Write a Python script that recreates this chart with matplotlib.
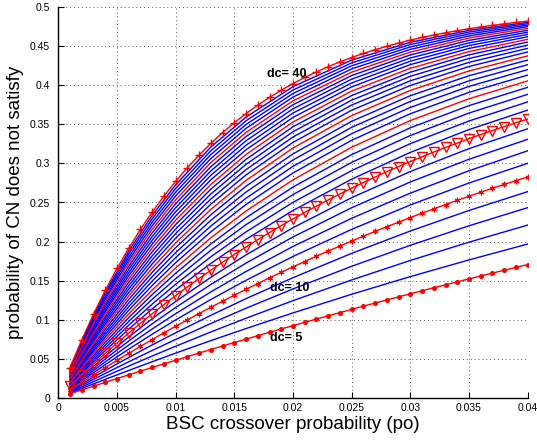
import matplotlib
matplotlib.use("Agg")
from matplotlib import pyplot as plt

plt.rcParams['font.family'] = ['Liberation Sans', 'DejaVu Sans']

# crossover probabilities (fine grid used for the marked curves)
po_fine = [0.001, 0.002, 0.003, 0.004, 0.005, 0.006, 0.007, 0.008, 0.009, 0.010,
           0.011, 0.012, 0.013, 0.014, 0.015, 0.016, 0.017, 0.018, 0.019, 0.020,
           0.021, 0.022, 0.023, 0.024, 0.025, 0.026, 0.027, 0.028, 0.029, 0.030,
           0.031, 0.032, 0.033, 0.034, 0.035, 0.036, 0.037, 0.038, 0.039, 0.040]
# points read for the plain curves
po_coarse = [0.001, 0.002, 0.003, 0.004, 0.006, 0.008, 0.010, 0.013, 0.016,
             0.020, 0.025, 0.030, 0.035, 0.040]

pf_dc5 = [0.0050, 0.0099, 0.0148, 0.0197, 0.0245, 0.0293, 0.0340, 0.0387, 0.0434, 0.0480,
          0.0526, 0.0572, 0.0617, 0.0662, 0.0706, 0.0750, 0.0794, 0.0838, 0.0881, 0.0923,
          0.0965, 0.1007, 0.1049, 0.1090, 0.1131, 0.1172, 0.1212, 0.1252, 0.1291, 0.1331,
          0.1369, 0.1408, 0.1446, 0.1484, 0.1522, 0.1559, 0.1596, 0.1632, 0.1669, 0.1705]
pf_dc10 = [0.0099, 0.0196, 0.0292, 0.0386, 0.0478, 0.0569, 0.0657, 0.0745, 0.0831, 0.0915,
           0.0997, 0.1078, 0.1158, 0.1236, 0.1313, 0.1388, 0.1462, 0.1535, 0.1606, 0.1676,
           0.1744, 0.1812, 0.1878, 0.1943, 0.2006, 0.2069, 0.2130, 0.2190, 0.2249, 0.2307,
           0.2364, 0.2419, 0.2474, 0.2528, 0.2580, 0.2632, 0.2682, 0.2732, 0.2780, 0.2828]
pf_dc15 = [0.0148, 0.0292, 0.0432, 0.0568, 0.0700, 0.0828, 0.0953, 0.1075, 0.1193, 0.1307,
           0.1419, 0.1527, 0.1632, 0.1735, 0.1834, 0.1930, 0.2024, 0.2115, 0.2204, 0.2290,
           0.2373, 0.2454, 0.2533, 0.2609, 0.2684, 0.2756, 0.2826, 0.2894, 0.2960, 0.3024,
           0.3086, 0.3146, 0.3205, 0.3261, 0.3317, 0.3370, 0.3422, 0.3472, 0.3521, 0.3569]
pf_dc40 = [0.0385, 0.0741, 0.1070, 0.1374, 0.1655, 0.1915, 0.2155, 0.2377, 0.2582, 0.2771,
           0.2946, 0.3108, 0.3257, 0.3395, 0.3521, 0.3639, 0.3747, 0.3846, 0.3938, 0.4023,
           0.4101, 0.4173, 0.4240, 0.4301, 0.4357, 0.4409, 0.4457, 0.4501, 0.4542, 0.4579,
           0.4614, 0.4645, 0.4674, 0.4701, 0.4726, 0.4748, 0.4769, 0.4788, 0.4806, 0.4822]

pf_dc6 = [0.0060, 0.0119, 0.0177, 0.0235, 0.0349, 0.0461, 0.0571, 0.0731, 0.0886, 0.1086, 0.1325, 0.1551, 0.1765, 0.1968]
pf_dc7 = [0.0070, 0.0138, 0.0206, 0.0273, 0.0405, 0.0534, 0.0659, 0.0842, 0.1018, 0.1243, 0.1508, 0.1758, 0.1992, 0.2211]
pf_dc8 = [0.0079, 0.0158, 0.0235, 0.0311, 0.0460, 0.0605, 0.0746, 0.0950, 0.1146, 0.1393, 0.1683, 0.1952, 0.2202, 0.2434]
pf_dc9 = [0.0089, 0.0177, 0.0264, 0.0349, 0.0515, 0.0676, 0.0831, 0.1055, 0.1269, 0.1537, 0.1849, 0.2135, 0.2398, 0.2639]
pf_dc11 = [0.0109, 0.0216, 0.0320, 0.0423, 0.0622, 0.0813, 0.0996, 0.1258, 0.1504, 0.1809, 0.2156, 0.2469, 0.2750, 0.3002]
pf_dc12 = [0.0119, 0.0235, 0.0348, 0.0459, 0.0674, 0.0880, 0.1076, 0.1355, 0.1616, 0.1937, 0.2298, 0.2620, 0.2907, 0.3162]
pf_dc13 = [0.0129, 0.0254, 0.0376, 0.0496, 0.0726, 0.0946, 0.1155, 0.1450, 0.1724, 0.2059, 0.2433, 0.2763, 0.3054, 0.3309]
pf_dc14 = [0.0138, 0.0273, 0.0404, 0.0532, 0.0778, 0.1011, 0.1232, 0.1542, 0.1829, 0.2177, 0.2562, 0.2897, 0.3190, 0.3444]
pf_dc16 = [0.0158, 0.0311, 0.0459, 0.0603, 0.0878, 0.1137, 0.1381, 0.1720, 0.2029, 0.2398, 0.2799, 0.3142, 0.3434, 0.3683]
pf_dc17 = [0.0167, 0.0329, 0.0486, 0.0638, 0.0928, 0.1199, 0.1453, 0.1805, 0.2124, 0.2502, 0.2909, 0.3254, 0.3544, 0.3788]
pf_dc18 = [0.0177, 0.0348, 0.0513, 0.0673, 0.0977, 0.1260, 0.1524, 0.1888, 0.2216, 0.2602, 0.3014, 0.3358, 0.3646, 0.3885]
pf_dc19 = [0.0187, 0.0367, 0.0540, 0.0708, 0.1025, 0.1320, 0.1594, 0.1969, 0.2305, 0.2698, 0.3113, 0.3457, 0.3741, 0.3975]
pf_dc20 = [0.0196, 0.0385, 0.0567, 0.0742, 0.1073, 0.1379, 0.1662, 0.2048, 0.2391, 0.2790, 0.3208, 0.3550, 0.3829, 0.4057]
pf_dc21 = [0.0206, 0.0404, 0.0594, 0.0776, 0.1120, 0.1437, 0.1729, 0.2125, 0.2475, 0.2878, 0.3297, 0.3637, 0.3911, 0.4132]
pf_dc22 = [0.0215, 0.0422, 0.0620, 0.0810, 0.1166, 0.1494, 0.1794, 0.2199, 0.2555, 0.2963, 0.3382, 0.3718, 0.3987, 0.4202]
pf_dc23 = [0.0225, 0.0440, 0.0646, 0.0843, 0.1212, 0.1550, 0.1858, 0.2272, 0.2634, 0.3045, 0.3463, 0.3795, 0.4058, 0.4265]
pf_dc24 = [0.0235, 0.0459, 0.0672, 0.0877, 0.1258, 0.1605, 0.1921, 0.2343, 0.2709, 0.3123, 0.3540, 0.3868, 0.4124, 0.4324]
pf_dc25 = [0.0244, 0.0477, 0.0698, 0.0910, 0.1303, 0.1659, 0.1983, 0.2412, 0.2783, 0.3198, 0.3613, 0.3936, 0.4185, 0.4378]
pf_dc26 = [0.0254, 0.0495, 0.0724, 0.0942, 0.1347, 0.1713, 0.2043, 0.2479, 0.2854, 0.3270, 0.3682, 0.3999, 0.4242, 0.4428]
pf_dc27 = [0.0263, 0.0513, 0.0750, 0.0975, 0.1391, 0.1765, 0.2102, 0.2545, 0.2922, 0.3339, 0.3748, 0.4059, 0.4295, 0.4474]
pf_dc28 = [0.0273, 0.0531, 0.0775, 0.1007, 0.1434, 0.1817, 0.2160, 0.2609, 0.2989, 0.3406, 0.3811, 0.4116, 0.4345, 0.4516]
pf_dc29 = [0.0282, 0.0549, 0.0801, 0.1039, 0.1477, 0.1868, 0.2217, 0.2671, 0.3053, 0.3470, 0.3870, 0.4169, 0.4391, 0.4555]
pf_dc30 = [0.0292, 0.0567, 0.0826, 0.1071, 0.1519, 0.1918, 0.2273, 0.2732, 0.3115, 0.3531, 0.3927, 0.4219, 0.4433, 0.4590]
pf_dc31 = [0.0301, 0.0584, 0.0851, 0.1102, 0.1561, 0.1967, 0.2327, 0.2791, 0.3176, 0.3590, 0.3981, 0.4266, 0.4473, 0.4623]
pf_dc32 = [0.0310, 0.0602, 0.0876, 0.1133, 0.1602, 0.2016, 0.2381, 0.2848, 0.3234, 0.3646, 0.4031, 0.4310, 0.4510, 0.4653]
pf_dc33 = [0.0320, 0.0620, 0.0901, 0.1164, 0.1643, 0.2064, 0.2433, 0.2904, 0.3291, 0.3700, 0.4080, 0.4351, 0.4544, 0.4681]
pf_dc34 = [0.0329, 0.0637, 0.0925, 0.1195, 0.1683, 0.2111, 0.2484, 0.2958, 0.3345, 0.3752, 0.4126, 0.4390, 0.4576, 0.4706]
pf_dc35 = [0.0338, 0.0654, 0.0950, 0.1225, 0.1723, 0.2157, 0.2535, 0.3012, 0.3398, 0.3802, 0.4170, 0.4427, 0.4606, 0.4730]
pf_dc36 = [0.0348, 0.0672, 0.0974, 0.1256, 0.1762, 0.2202, 0.2584, 0.3063, 0.3450, 0.3850, 0.4211, 0.4461, 0.4633, 0.4752]
pf_dc37 = [0.0357, 0.0689, 0.0998, 0.1286, 0.1801, 0.2247, 0.2632, 0.3114, 0.3499, 0.3896, 0.4251, 0.4493, 0.4659, 0.4771]
pf_dc38 = [0.0366, 0.0706, 0.1022, 0.1315, 0.1840, 0.2291, 0.2680, 0.3163, 0.3547, 0.3940, 0.4288, 0.4524, 0.4683, 0.4790]
pf_dc39 = [0.0376, 0.0724, 0.1046, 0.1345, 0.1878, 0.2335, 0.2726, 0.3210, 0.3594, 0.3983, 0.4324, 0.4552, 0.4705, 0.4807]

plain_curves = [(6, pf_dc6), (7, pf_dc7), (8, pf_dc8), (9, pf_dc9),
                (11, pf_dc11), (12, pf_dc12), (13, pf_dc13), (14, pf_dc14),
                (16, pf_dc16), (17, pf_dc17), (18, pf_dc18), (19, pf_dc19),
                (20, pf_dc20), (21, pf_dc21), (22, pf_dc22), (23, pf_dc23),
                (24, pf_dc24), (25, pf_dc25), (26, pf_dc26), (27, pf_dc27),
                (28, pf_dc28), (29, pf_dc29), (30, pf_dc30), (31, pf_dc31),
                (32, pf_dc32), (33, pf_dc33), (34, pf_dc34), (35, pf_dc35),
                (36, pf_dc36), (37, pf_dc37), (38, pf_dc38), (39, pf_dc39)]

xtick_vals = [0, 0.005, 0.01, 0.015, 0.02, 0.025, 0.03, 0.035, 0.04]
xtick_labels = ['0', '0.005', '0.01', '0.015', '0.02', '0.025', '0.03', '0.035', '0.04']
ytick_vals = [0, 0.05, 0.1, 0.15, 0.2, 0.25, 0.3, 0.35, 0.4, 0.45, 0.5]
ytick_labels = ['0', '0.05', '0.1', '0.15', '0.2', '0.25', '0.3', '0.35', '0.4', '0.45', '0.5']

fig = plt.figure(figsize=(5.37, 4.40), dpi=100)
ax = fig.add_axes([58.3 / 537, 42.3 / 440, 469.4 / 537, 390.4 / 440])

# every fifth dc is drawn in red, the rest in blue
for dc, vals in plain_curves:
    if dc % 5 != 0:
        ax.plot(po_coarse, vals, color='blue', lw=1.0)
for dc, vals in plain_curves:
    if dc % 5 == 0:
        ax.plot(po_coarse, vals, color='red', lw=1.0)

ax.plot(po_fine, pf_dc5, color='red', lw=1.0, marker='o', ms=2.6)
ax.plot(po_fine, pf_dc10, color='red', lw=1.0, marker=(6, 2, 0), ms=4, mew=0.8)
ax.plot(po_fine, pf_dc15, color='red', lw=1.0, marker='v', ms=7, mfc='none', mew=1.0)
ax.plot(po_fine, pf_dc40, color='red', lw=1.0, marker='+', ms=6, mew=1.0)

ax.text(0.0178, 0.415, 'dc= 40', fontsize=9, fontweight='bold', va='center')
ax.text(0.0180, 0.141, 'dc= 10', fontsize=9, fontweight='bold', va='center')
ax.text(0.0180, 0.0765, 'dc= 5', fontsize=9, fontweight='bold', va='center')

ax.set_xlim(0, 0.04)
ax.set_ylim(0, 0.5)
ax.set_xticks(xtick_vals)
ax.set_xticklabels(xtick_labels)
ax.set_yticks(ytick_vals)
ax.set_yticklabels(ytick_labels)
ax.tick_params(direction='in', length=4, labelsize=7.5, colors='black')
ax.tick_params(axis='y', pad=6)
ax.tick_params(axis='x', pad=4)
ax.grid(True, linestyle=(0, (1, 3)), color='0.35', lw=0.7)
ax.spines['top'].set_visible(False)
ax.spines['right'].set_visible(False)
ax.spines['left'].set_linewidth(1.0)
ax.spines['bottom'].set_linewidth(1.0)

ax.set_xlabel('BSC crossover probability (po)', fontsize=13.5, labelpad=2)
ax.set_ylabel('probability of CN does not satisfy', fontsize=13.5, labelpad=4)

fig.savefig('out.png', dpi=100)
